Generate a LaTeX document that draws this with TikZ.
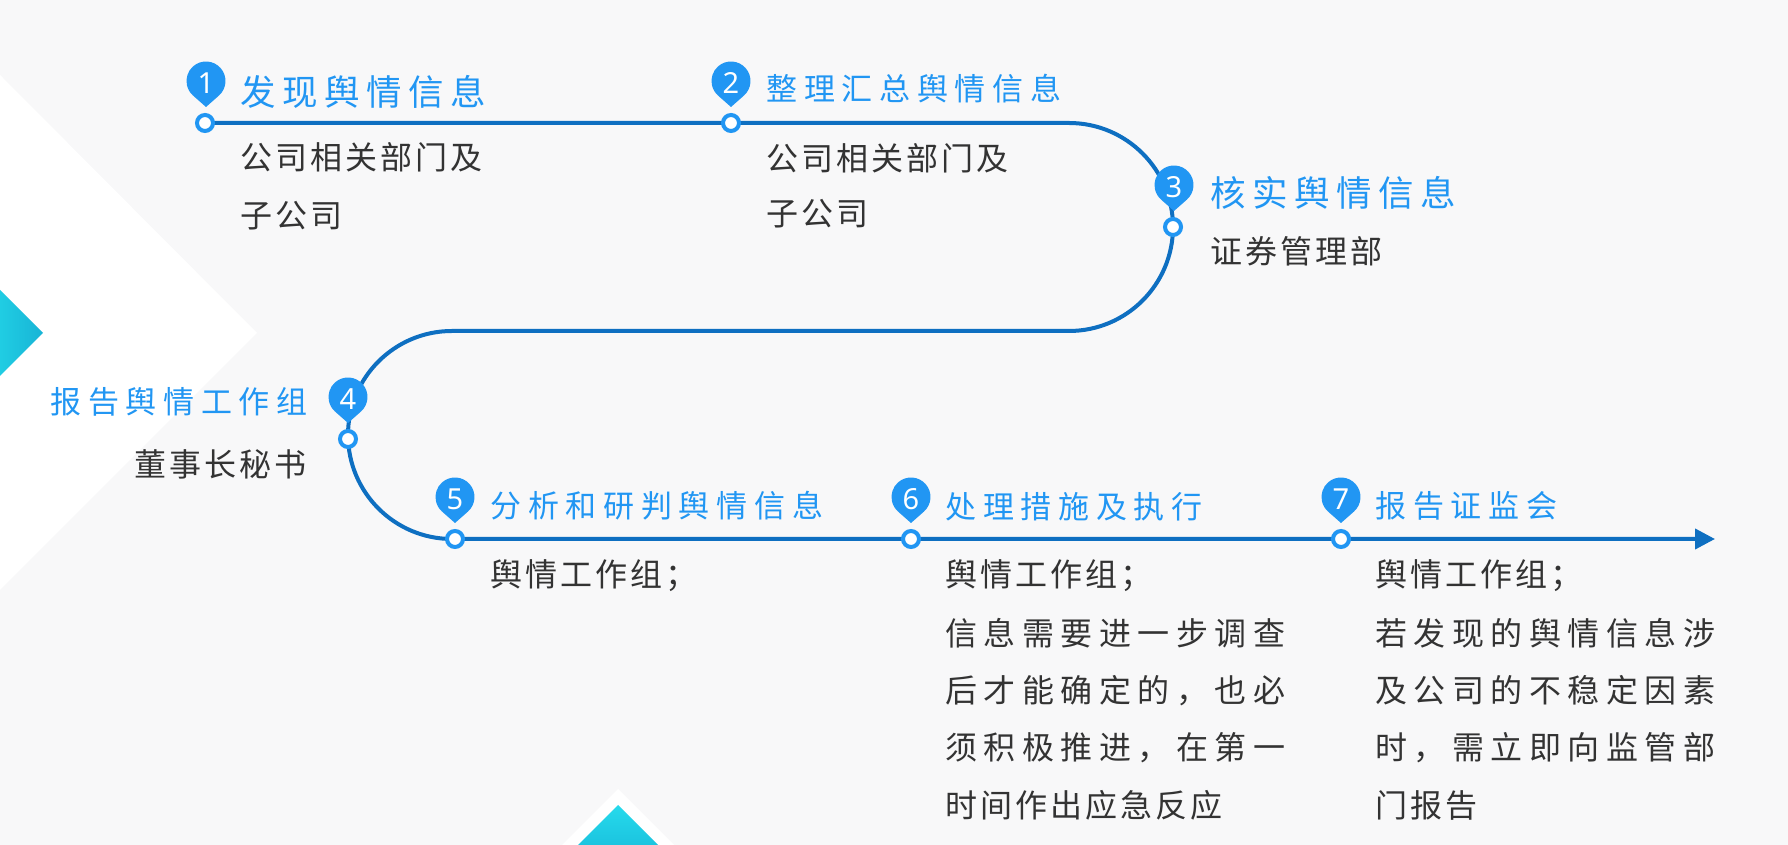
\documentclass[tikz,border=0pt]{standalone}
\usepackage{fontspec}
\newfontfamily\cjk{Noto Sans CJK SC}
\newfontfamily\numfont{Noto Sans}
\usetikzlibrary{arrows.meta}
\definecolor{bgc}{HTML}{F8F8F9}
\definecolor{tblue}{HTML}{2196F3}
\definecolor{lblue}{HTML}{0E6FC1}
\definecolor{txt}{HTML}{333333}
\definecolor{cyA}{HTML}{20CDE3}
\definecolor{cyB}{HTML}{18B4D6}
\definecolor{cyC}{HTML}{26DAEC}
\definecolor{cyD}{HTML}{1CC4DF}
\makeatletter
\newcommand\spaced[2]{\def\sp@sep{}\@tfor\sp@ch:=#2\do{\sp@sep\sp@ch\def\sp@sep{\hspace{#1}}}}
\newcommand\spreadto[2]{\makebox[#1][l]{\def\sp@sep{}\@tfor\sp@ch:=#2\do{\sp@sep\sp@ch\def\sp@sep{\hfill}}}}
\makeatother
\newcommand\pinmark[2]{\fill[tblue,shift={(#1,#2)}] (0,16) -- (12.89,27.37) arc[start angle=-48.6,end angle=228.6,radius=19.5] -- cycle;}
\tikzset{
  ttl/.style={anchor=west, inner sep=0, text=tblue, font=\cjk\fontsize{15.5}{18}\selectfont},
  ttlL/.style={ttl, font=\cjk\fontsize{17.75}{20}\selectfont},
  body/.style={anchor=west, inner sep=0, text=txt, font=\cjk\fontsize{16}{19}\selectfont},
  dot/.style={circle, draw=tblue, fill=white, line width=2pt, minimum size=8pt, inner sep=0},
  num/.style={text=white, inner sep=0, font=\numfont\fontsize{14.5}{15}\selectfont},
  flow/.style={draw=lblue, line width=2pt}
}
\begin{document}
\begin{tikzpicture}[x=0.5pt,y=0.5pt]
\useasboundingbox (0,0) rectangle (1788,845);
% background
\fill[bgc] (0,0) rectangle (1788,845);
\fill[white] (0,770) -- (257,512) -- (0,255) -- cycle;
\shade[left color=cyA, right color=cyB] (0,555) -- (43,512) -- (0,469) -- cycle;
\fill[white] (618,56) -- (674,0) -- (562,0) -- cycle;
\shade[top color=cyC, bottom color=cyD] (618,40) -- (658,0) -- (578,0) -- cycle;
% points on the route
\coordinate (c1) at (205,722);
\coordinate (c2) at (731,722);
\coordinate (c3) at (1173,618);
\coordinate (c4) at (348,406);
\coordinate (c5) at (455,306);
\coordinate (c6) at (911,306);
\coordinate (c7) at (1341,306);
\coordinate (tipend) at (1715,306);
% route
\draw[flow, -{Triangle[length=10pt,width=10pt]}] (c1) -- (c2) -- (1069,722)
  arc[start angle=90,end angle=-90,radius=104] -- (452,514)
  arc[start angle=90,end angle=270,radius=104] -- (c5) -- (c6) -- (c7) -- (tipend);
% pins
\pinmark{206}{722}
\pinmark{731}{722}
\pinmark{1174}{618}
\pinmark{348}{406}
\pinmark{455}{306}
\pinmark{911}{306}
\pinmark{1341}{306}
\node[num] (n1) at (206,762) {1};
\node[num] (n2) at (731,762) {2};
\node[num] (n3) at (1174,658) {3};
\node[num] (n4) at (348,446) {4};
\node[num] (n5) at (455,346) {5};
\node[num] (n6) at (911,346) {6};
\node[num] (n7) at (1341,346) {7};
% dots
\node[dot] (m1) at (c1) {};
\node[dot] (m2) at (c2) {};
\node[dot] (m3) at (c3) {};
\node[dot] (m4) at (c4) {};
\node[dot] (m5) at (c5) {};
\node[dot] (m6) at (c6) {};
\node[dot] (m7) at (c7) {};
% titles
\node[ttlL] (t1) at (240,753) {\spaced{3.25pt}{发现舆情信息}};
\node[ttl]  (t2) at (766,756) {\spaced{3.35pt}{整理汇总舆情信息}};
\node[ttlL] (t3) at (1210,652) {\spaced{3.25pt}{核实舆情信息}};
\node[ttl, anchor=east] (t4) at (308,443) {\spaced{3.35pt}{报告舆情工作组}};
\node[ttl]  (t5) at (490,339) {\spaced{3.35pt}{分析和研判舆情信息}};
\node[ttl]  (t6) at (945,338) {\spaced{3.35pt}{处理措施及执行}};
\node[ttl]  (t7) at (1375,339) {\spaced{3.35pt}{报告证监会}};
% bodies
\node[body] (b1a) at (240,687.5) {\spaced{1.5pt}{公司相关部门及}};
\node[body] (b1b) at (240,629) {\spaced{1.5pt}{子公司}};
\node[body] (b2a) at (766,687) {\spaced{1.5pt}{公司相关部门及}};
\node[body] (b2b) at (766,631) {\spaced{1.5pt}{子公司}};
\node[body] (b3) at (1210,593.5) {\spaced{1.5pt}{证券管理部}};
\node[body, anchor=east] (b4) at (307,381) {\spaced{1.5pt}{董事长秘书}};
\node[body] (b5) at (490,269.5) {\spaced{1.5pt}{舆情工作组；}};
\node[body] (b6a) at (945,269.5) {\spaced{1.5pt}{舆情工作组；}};
\node[body] (b6b) at (945,212) {\spreadto{170pt}{信息需要进一步调查}};
\node[body] (b6c) at (945,154.5) {\spreadto{170pt}{后才能确定的，也必}};
\node[body] (b6d) at (945,97) {\spreadto{170pt}{须积极推进，在第一}};
\node[body] (b6e) at (945,39.5) {\spaced{1.5pt}{时间作出应急反应}};
\node[body] (b7a) at (1375,269.5) {\spaced{1.5pt}{舆情工作组；}};
\node[body] (b7b) at (1375,212) {\spreadto{170pt}{若发现的舆情信息涉}};
\node[body] (b7c) at (1375,154.5) {\spreadto{170pt}{及公司的不稳定因素}};
\node[body] (b7d) at (1375,97) {\spreadto{170pt}{时，需立即向监管部}};
\node[body] (b7e) at (1375,39.5) {\spaced{1.5pt}{门报告}};
\end{tikzpicture}
\end{document}
